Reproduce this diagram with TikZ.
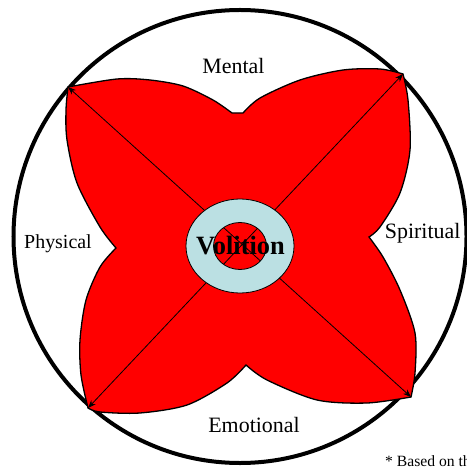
\documentclass[tikz,border=0pt]{standalone}
\usepackage{fontspec}
\setmainfont{Liberation Serif}
\usetikzlibrary{arrows.meta}
\definecolor{petal}{RGB}{255,0,0}
\definecolor{ringblue}{RGB}{187,224,227}
\tikzset{
  label text/.style={inner sep=0pt, anchor=base, font=\fontsize{22}{24}\selectfont},
  axis arrow/.style={line width=0.8bp, {Stealth[length=8bp,width=6bp]}-{Stealth[length=8bp,width=6bp]}},
}
\begin{document}
\begin{tikzpicture}[x=1bp,y=-1bp]
\useasboundingbox (0,0) rectangle (467,468);

% outer circle
\draw[line width=4bp] (240,236.5) circle [radius=226.5bp];

% tips of the four petals
\coordinate (tl) at (68,87);
\coordinate (tr) at (403,74);
\coordinate (br) at (411,397);
\coordinate (bl) at (88,408);

% four-petal shape
\filldraw[fill=petal, draw=black, line width=1.3bp, line join=miter]
  plot[smooth] coordinates {(68,87) (117,79) (150,80) (183,86) (213,100) (232,113)}
  -- plot[smooth] coordinates {(243,113) (260,98) (300,80) (343,70) (380,69) (403,74)}
  -- plot[smooth] coordinates {(403,74) (408,100) (410,150) (400,193) (380,227) (369,237)}
  -- plot[smooth] coordinates {(369,237) (383,257) (400,290) (415,333) (415,373) (411,397)}
  -- plot[smooth] coordinates {(411,397) (367,403) (317,400) (267,380) (246,365)}
  -- plot[smooth] coordinates {(246,365) (227,383) (187,405) (140,413) (100,412) (88,408)}
  -- plot[smooth] coordinates {(88,408) (81,375) (80,340) (86,300) (100,267) (116,248)}
  -- plot[smooth] coordinates {(116,248) (100,227) (77,183) (67,140) (66,110) (68,87)}
  -- cycle;

% diagonal double arrows
\draw[axis arrow] (tl) -- (br);
\draw[axis arrow] (bl) -- (tr);

% ring around the centre
\coordinate (c) at (240,246);
\filldraw[fill=ringblue, draw=black, line width=0.8bp, even odd rule]
  (c) ellipse [x radius=54bp, y radius=47bp]
  (c) ellipse [x radius=26.5bp, y radius=23.5bp];

\node[inner sep=0pt, anchor=base, font=\bfseries\fontsize{26.5}{30}\selectfont] (vol) at (240.5,254.5) {Volition};

% labels
\node[label text] (mental) at (233.5,73.5) {Mental};
\node[label text, font=\fontsize{20}{22}\selectfont] (physical) at (58,248) {Physical};
\node[label text] (spiritual) at (422.7,238) {Spiritual};
\node[label text] (emotional) at (254,432.7) {Emotional};
\node[inner sep=0pt, anchor=base west, font=\fontsize{15.7}{17}\selectfont] (note) at (385,466) {* Based on the};
\end{tikzpicture}
\end{document}
